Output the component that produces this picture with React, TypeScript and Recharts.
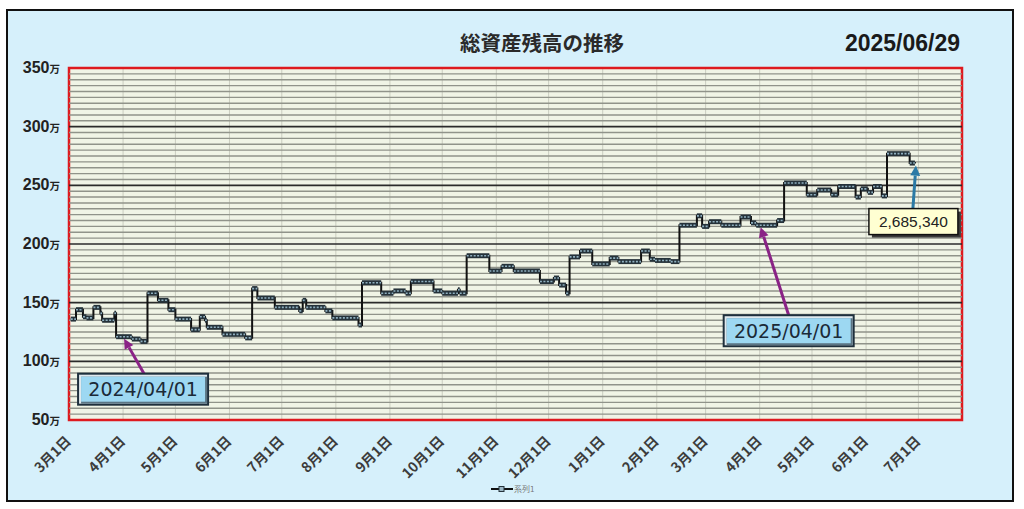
import React from 'react'
import {
  LineChart,
  Line,
  XAxis,
  YAxis,
  CartesianGrid,
  ReferenceLine,
  ReferenceArea,
  ReferenceDot,
} from 'recharts'

// 残高が変わった日付と、その日からの残高（万円）
const stepDates = [
  '2024-03-02', '2024-03-05', '2024-03-09', '2024-03-11', '2024-03-15', '2024-03-19',
  '2024-03-20', '2024-03-27', '2024-03-28', '2024-04-06', '2024-04-11', '2024-04-15',
  '2024-04-21', '2024-04-27', '2024-05-01', '2024-05-10', '2024-05-15', '2024-05-18',
  '2024-05-19', '2024-05-28', '2024-06-10', '2024-06-14', '2024-06-17', '2024-06-27',
  '2024-07-11', '2024-07-13', '2024-07-15', '2024-07-26', '2024-07-30', '2024-08-14',
  '2024-08-16', '2024-08-27', '2024-09-03', '2024-09-10', '2024-09-13', '2024-09-26',
  '2024-10-01', '2024-10-10', '2024-10-11', '2024-10-15', '2024-10-28', '2024-11-04',
  '2024-11-11', '2024-11-26', '2024-12-04', '2024-12-07', '2024-12-11', '2024-12-13',
  '2024-12-19', '2024-12-26', '2025-01-05', '2025-01-10', '2025-01-23', '2025-01-28',
  '2025-01-31', '2025-02-09', '2025-02-14', '2025-02-24', '2025-02-27', '2025-03-03',
  '2025-03-10', '2025-03-21', '2025-03-27', '2025-03-30', '2025-04-11', '2025-04-15',
  '2025-04-28', '2025-05-04', '2025-05-12', '2025-05-16', '2025-05-26', '2025-05-29',
  '2025-06-02', '2025-06-05', '2025-06-10', '2025-06-13', '2025-06-26', '2025-06-29',
]
const stepValues = [
  136, 144, 138, 137, 146, 141,
  135, 141, 121, 119, 117, 158,
  152, 144, 136, 127, 138, 135,
  129, 123, 120, 162, 154, 146,
  143, 152, 146, 143, 137, 131,
  167, 158, 160, 158, 168, 160,
  158, 161, 158, 190, 177, 181,
  177, 168, 171, 165, 158, 189,
  194, 183, 188, 185, 194, 187,
  186, 185, 216, 224, 215, 219,
  216, 223, 218, 216, 220, 252,
  242, 246, 242, 249, 240, 247,
  244, 249, 241, 277, 269, 268.534,
]

const monthTicks = [
  '2024-03-01', '2024-04-01', '2024-05-01', '2024-06-01', '2024-07-01', '2024-08-01',
  '2024-09-01', '2024-10-01', '2024-11-01', '2024-12-01', '2025-01-01', '2025-02-01',
  '2025-03-01', '2025-04-01', '2025-05-01', '2025-06-01', '2025-07-01',
]
const monthLabels = [
  '3月1日', '4月1日', '5月1日', '6月1日', '7月1日', '8月1日', '9月1日', '10月1日',
  '11月1日', '12月1日', '1月1日', '2月1日', '3月1日', '4月1日', '5月1日', '6月1日', '7月1日',
]
const yTicks = [50, 100, 150, 200, 250, 300, 350]
const majorLines = [100, 150, 200, 250, 300]
const axisStart = '2024-03-01'
const axisEnd = '2025-07-26'
const asOfDate = '2025/06/29'
const latestLabel = '2,685,340'
const markDates = ['2024-04-01', '2025-04-01']

const toDay = (s: string) => {
  const [y, m, d] = s.split('-').map(Number)
  return Date.UTC(y, m - 1, d) / 86400000
}

const data = stepDates.map((d, i) => ({ day: toDay(d), value: stepValues[i] }))

// 5万ごとの細い横線
const minorLines: number[] = []
for (let v = 55; v < 350; v += 5) if (v % 50 !== 0) minorLines.push(v)

const valueOn = (s: string) => {
  const t = toDay(s)
  let v = stepValues[0]
  data.forEach((p) => {
    if (p.day <= t) v = p.value
  })
  return v
}

const NUM_FONT = '"Liberation Sans", Arial, sans-serif'
const JP_FONT = '"Noto Sans CJK JP", "Noto Sans", sans-serif'

const YTick = ({ x, y, payload, anchor }: any) => (
  <text x={x} y={y} dy={5} textAnchor={anchor} fill="#222" fontFamily={NUM_FONT} fontWeight="bold">
    <tspan fontSize={16}>{payload.value}</tspan>
    <tspan fontSize={10.5} fontFamily={JP_FONT}>万</tspan>
  </text>
)

const XTick = ({ x, y, index }: any) => (
  <g transform={`translate(${x + 3},${y + 22})`}>
    <text
      transform="rotate(-45)"
      textAnchor="end"
      fill="#3c3c3c"
      fontSize={14}
      fontWeight="bold"
      fontFamily={JP_FONT}
    >
      {monthLabels[index]}
    </text>
  </g>
)

const arrowHead = (x1: number, y1: number, x2: number, y2: number, color: string) => {
  const a = Math.atan2(y2 - y1, x2 - x1)
  const len = 10
  const w = 5
  const bx = x2 - len * Math.cos(a)
  const by = y2 - len * Math.sin(a)
  const pts = [
    [x2, y2],
    [bx + w * Math.sin(a), by - w * Math.cos(a)],
    [bx - w * Math.sin(a), by + w * Math.cos(a)],
  ]
  return (
    <g>
      <line x1={x1} y1={y1} x2={bx} y2={by} stroke={color} strokeWidth={3} />
      <polygon points={pts.map((p) => p.join(',')).join(' ')} fill={color} />
    </g>
  )
}

const DateCallout = ({ cx, cy, label, dx, dy, ax }: any) => {
  const bx = cx + dx
  const by = cy + dy
  const w = 132
  const h = 33
  return (
    <g>
      {arrowHead(cx + ax, by + 1, cx + 1, cy + 2, '#8a2386')}
      <rect x={bx} y={by} width={w} height={h} fill="#1e2f3c" />
      <rect x={bx + 2} y={by + 2} width={w - 4} height={h - 4} fill="#dfe9ee" />
      <rect x={bx + 4} y={by + 4} width={w - 6} height={h - 6} fill="#5b7584" />
      <rect x={bx + 4} y={by + 4} width={w - 8} height={h - 8} fill="#9dd8f2" />
      <text
        x={bx + w / 2}
        y={by + h / 2 + 7}
        textAnchor="middle"
        fontSize={19}
        fill="#1b2a38"
        fontFamily='"DejaVu Sans", sans-serif'
      >
        {label}
      </text>
    </g>
  )
}

const ValueCallout = ({ cx, cy }: any) => {
  const bx = cx - 46
  const by = cy + 45
  const w = 89
  const h = 26
  return (
    <g>
      {arrowHead(cx - 2, by, cx + 1, cy + 2, '#2b7aa6')}
      <rect x={bx + 3} y={by + 3} width={w} height={h} fill="#3a3a3a" />
      <rect x={bx} y={by} width={w} height={h} fill="#ffffd2" stroke="#111" strokeWidth={1.5} />
      <text x={bx + w / 2} y={by + h / 2 + 5.5} textAnchor="middle" fontSize={15.5} fill="#222" fontFamily={NUM_FONT}>
        {latestLabel}
      </text>
    </g>
  )
}

export default function App() {
  const domain = [toDay(axisStart), toDay(axisEnd)]
  const last = data[data.length - 1]
  return (
    <div style={{ position: 'fixed', left: 0, top: 0, width: 1024, height: 509, background: '#fff' }}>
      <div
        style={{
          position: 'absolute',
          left: 6,
          top: 9,
          width: 1008,
          height: 493,
          boxSizing: 'border-box',
          border: '2px solid #111',
          background: '#d6f0fb',
        }}
      />
      <div
        style={{
          position: 'absolute',
          left: 392,
          top: 28,
          width: 300,
          textAlign: 'center',
          fontFamily: JP_FONT,
          fontWeight: 'bold',
          fontSize: 20.5,
          lineHeight: '28px',
          color: '#2a2a2a',
        }}
      >
        総資産残高の推移
      </div>
      <div
        style={{
          position: 'absolute',
          right: 64,
          top: 28,
          fontFamily: NUM_FONT,
          fontWeight: 'bold',
          fontSize: 23,
          lineHeight: '30px',
          color: '#1a1a1a',
        }}
      >
        {asOfDate}
      </div>
      <div style={{ position: 'absolute', left: 0, top: 0 }}>
        <LineChart width={1024} height={509} data={data} margin={{ top: 68, right: 12, bottom: 29, left: 19 }}>
          <CartesianGrid yAxisId="left" horizontal={false} stroke="#cacdc0" strokeWidth={1} fill="#f0f4e6" />
          <XAxis
            dataKey="day"
            type="number"
            domain={domain}
            ticks={monthTicks.map(toDay)}
            allowDataOverflow
            height={60}
            axisLine={false}
            tickLine={false}
            tickSize={0}
            tickMargin={0}
            tick={<XTick />}
            interval={0}
          />
          <YAxis
            yAxisId="left"
            domain={[50, 350]}
            ticks={yTicks}
            width={50}
            axisLine={false}
            tickLine={false}
            tickSize={0}
            tickMargin={9}
            tick={<YTick anchor="end" />}
          />
          <YAxis
            yAxisId="right"
            orientation="right"
            domain={[50, 350]}
            ticks={yTicks}
            width={50}
            axisLine={false}
            tickLine={false}
            tickSize={0}
            tickMargin={11}
            tick={<YTick anchor="start" />}
          />
          {minorLines.map((v) => (
            <ReferenceLine key={'m' + v} yAxisId="left" y={v} stroke="#90938a" strokeWidth={1.4} />
          ))}
          {majorLines.map((v) => (
            <ReferenceLine key={v} yAxisId="left" y={v} stroke="#2b2b2b" strokeWidth={1.6} />
          ))}
          <Line
            yAxisId="left"
            dataKey="value"
            type="stepAfter"
            stroke="#111"
            strokeWidth={2}
            dot={false}
            isAnimationActive={false}
          />
          {data.slice(0, -1).map((p, i) => (
            <ReferenceLine
              key={'b' + i}
              yAxisId="left"
              segment={[
                { x: p.day, y: p.value },
                { x: data[i + 1].day, y: p.value },
              ]}
              stroke="#25323a"
              strokeWidth={5}
            />
          ))}
          {data.slice(0, -1).map((p, i) => (
            <ReferenceLine
              key={'d' + i}
              yAxisId="left"
              segment={[
                { x: p.day, y: p.value },
                { x: data[i + 1].day, y: p.value },
              ]}
              stroke="#8fb0c0"
              strokeWidth={1.6}
              strokeDasharray="2 1.5"
            />
          ))}
          <ReferenceArea
            yAxisId="left"
            x1={domain[0]}
            x2={domain[1]}
            y1={50}
            y2={350}
            fill="none"
            stroke="#de1a1f"
            strokeWidth={2.5}
            ifOverflow="visible"
          />
          <ReferenceDot
            yAxisId="left"
            x={toDay(markDates[0])}
            y={valueOn(markDates[0])}
            shape={(p: any) => <DateCallout cx={p.cx} cy={p.cy} label="2024/04/01" dx={-46} dy={36} ax={21} />}
          />
          <ReferenceDot
            yAxisId="left"
            x={toDay(markDates[1])}
            y={valueOn(markDates[1])}
            shape={(p: any) => <DateCallout cx={p.cx} cy={p.cy} label="2025/04/01" dx={-37} dy={89} ax={29} />}
          />
          <ReferenceDot
            yAxisId="left"
            x={last.day}
            y={last.value}
            shape={(p: any) => <ValueCallout cx={p.cx} cy={p.cy} />}
          />
        </LineChart>
      </div>
      <div style={{ position: 'absolute', left: 491, top: 483, display: 'flex', alignItems: 'center' }}>
        <svg width={22} height={10}>
          <line x1={0} y1={5} x2={22} y2={5} stroke="#111" strokeWidth={2} />
          <rect x={8} y={2.5} width={5} height={5} fill="#9bb6c4" stroke="#25323a" strokeWidth={1} />
        </svg>
        <span style={{ fontFamily: JP_FONT, fontSize: 8, color: '#777', marginLeft: 1 }}>系列1</span>
      </div>
    </div>
  )
}
